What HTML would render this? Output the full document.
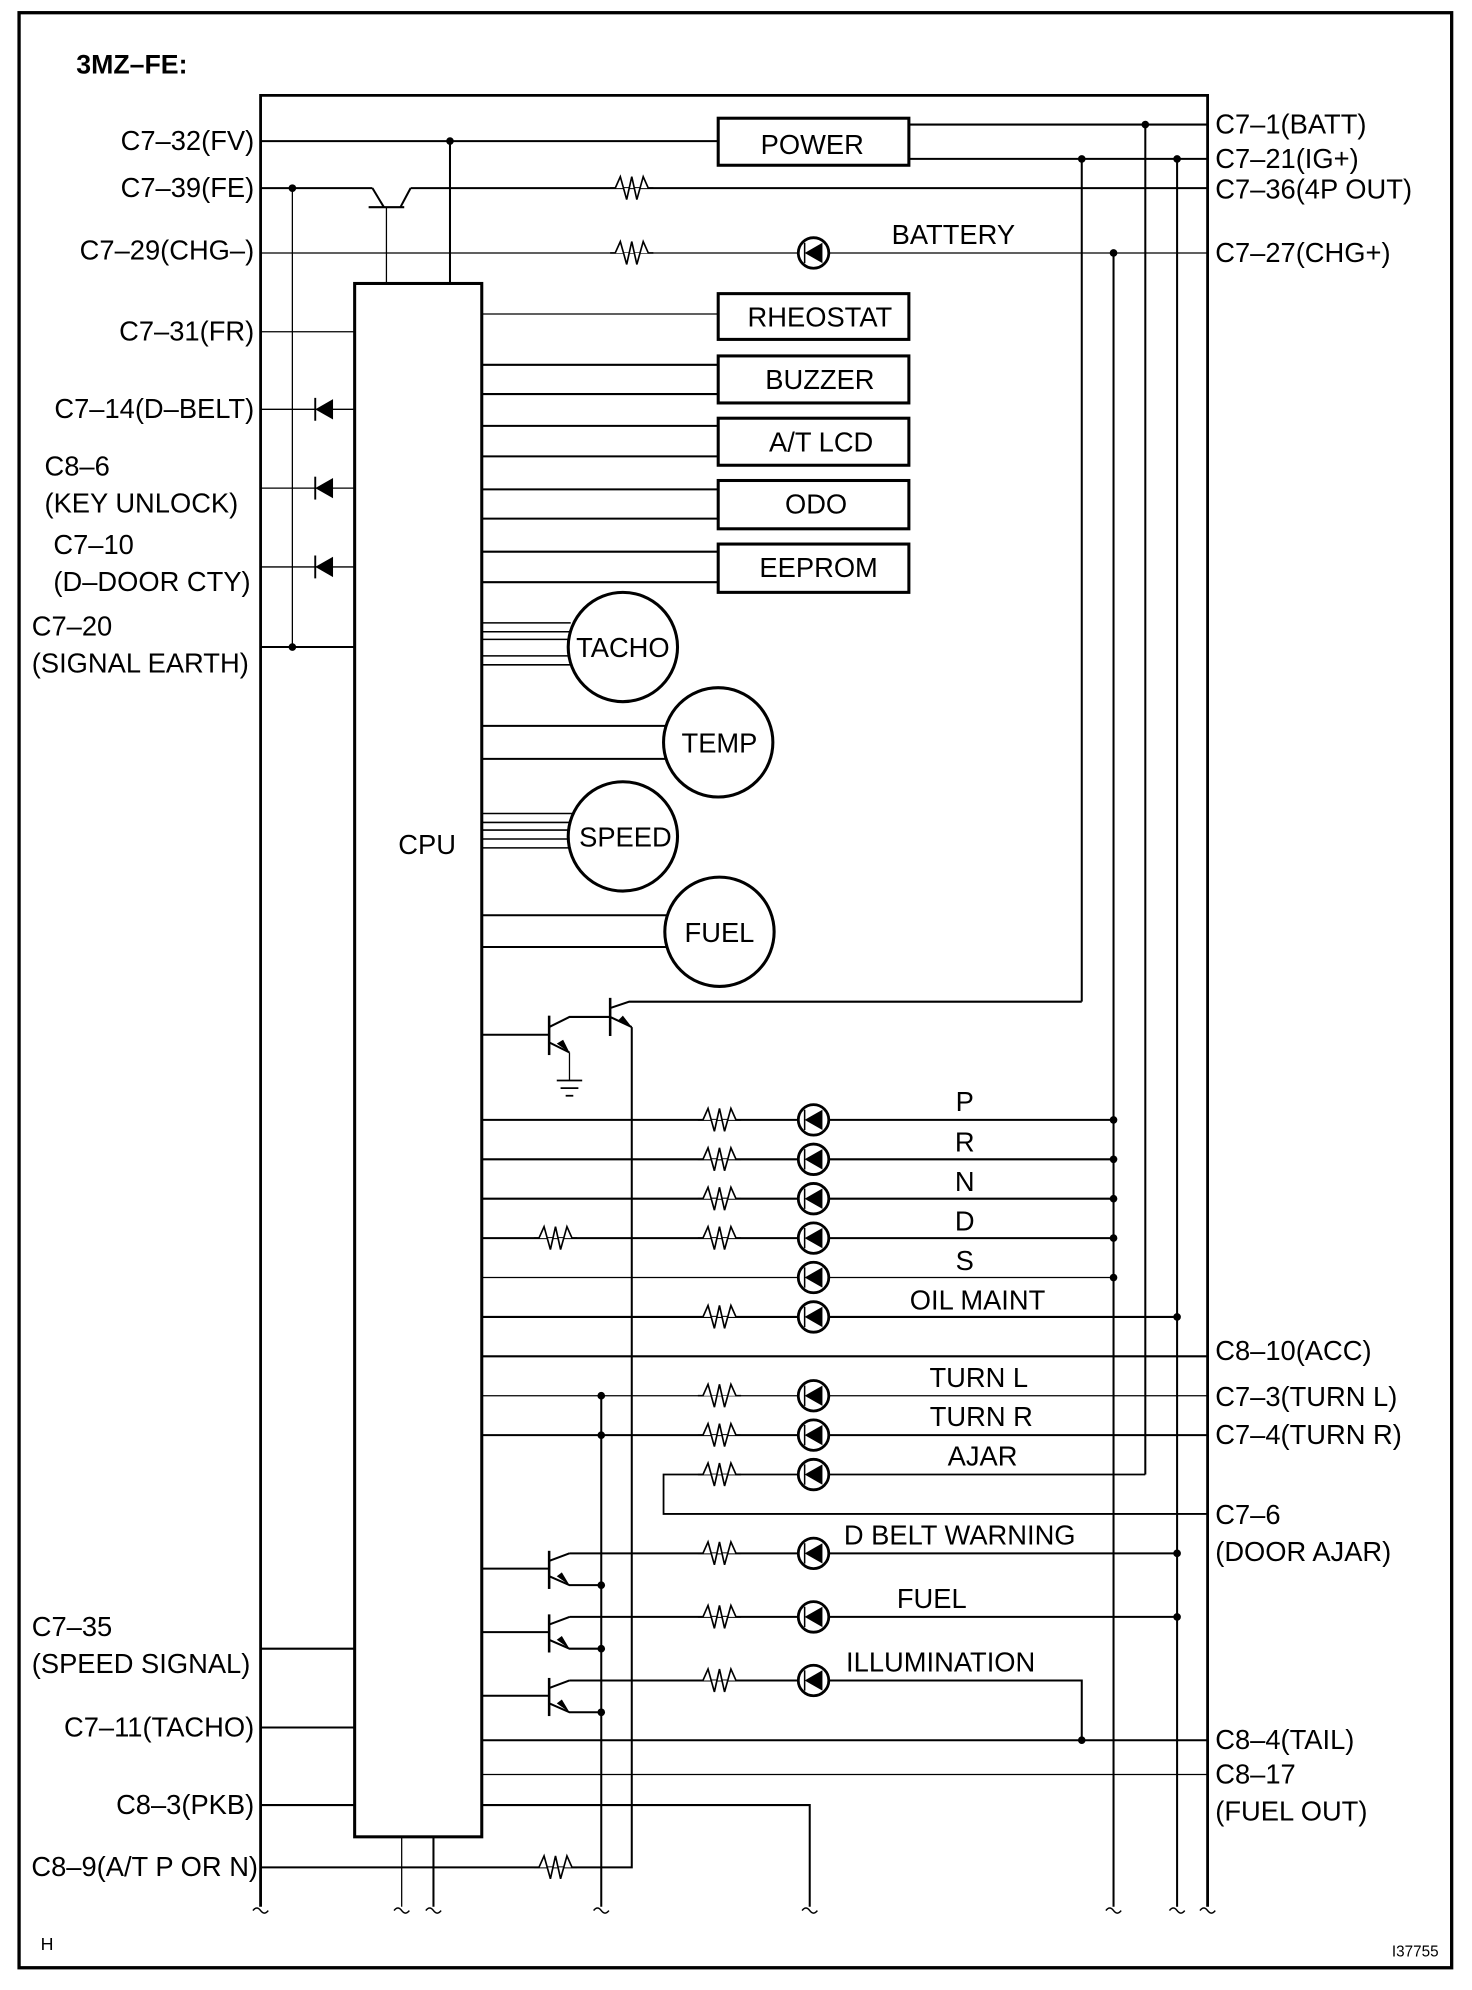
<!DOCTYPE html>
<html><head><meta charset="utf-8"><style>
html,body{margin:0;padding:0;background:#fff;}
svg{display:block;}
text{font-family:"Liberation Sans",Arial,sans-serif;font-size:21.5px;fill:#000;}
</style></head><body>
<svg width="1472" height="1990" viewBox="0 0 1158 1565.5" preserveAspectRatio="none" xmlns="http://www.w3.org/2000/svg">
<defs>
<g id="res"><polyline points="-17,0 -13,0 -9,-9 -4,9 0,-9 4,9 9,-9 13,0 17,0" fill="#fff" stroke="#000" stroke-width="1.3"/></g>
<g id="led"><circle r="12" fill="#fff" stroke="#000" stroke-width="2.2"/><line x1="-7" y1="-8" x2="-7" y2="8" stroke="#000" stroke-width="1.2"/><polygon points="-7,0 7,-8 7,8" fill="#000"/></g>
<g id="dio"><line x1="-7" y1="-9" x2="-7" y2="9" stroke="#000" stroke-width="1.5"/><polygon points="-7,0 7,-8 7,8" fill="#000"/></g>
</defs>
<g fill="none" stroke="#000" stroke-width="1.6">
<rect x="15" y="10" width="1127" height="1538" stroke-width="2.6"/>
<polyline points="205,1500 205,75 950,75 950,1500" stroke-width="2.2"/>
<rect x="279" y="223" width="100" height="1222" stroke-width="2.4"/>
<rect x="565" y="93" width="150" height="37" stroke-width="2.4"/>
<rect x="565" y="231" width="150" height="36" stroke-width="2.4"/>
<rect x="565" y="280" width="150" height="37" stroke-width="2.4"/>
<rect x="565" y="329" width="150" height="37" stroke-width="2.4"/>
<rect x="565" y="378" width="150" height="38" stroke-width="2.4"/>
<rect x="565" y="428" width="150" height="38" stroke-width="2.4"/>
<circle cx="490" cy="509" r="43" stroke-width="2.4"/>
<circle cx="565" cy="584" r="43" stroke-width="2.4"/>
<circle cx="490" cy="658" r="43" stroke-width="2.4"/>
<circle cx="566" cy="733" r="43" stroke-width="2.4"/>
<line x1="205" y1="111" x2="565" y2="111"/>
<line x1="354" y1="111" x2="354" y2="223"/>
<line x1="715" y1="98" x2="950" y2="98"/>
<line x1="715" y1="125" x2="950" y2="125"/>
<line x1="901" y1="98" x2="901" y2="1160"/>
<line x1="926" y1="125" x2="926" y2="1500"/>
<line x1="851" y1="125" x2="851" y2="788"/>
<line x1="876" y1="199" x2="876" y2="1500"/>
<line x1="205" y1="148" x2="293" y2="148"/>
<line x1="293" y1="148" x2="302" y2="163"/>
<line x1="290" y1="163" x2="318" y2="163"/>
<line x1="315" y1="163" x2="323" y2="148"/>
<line x1="323" y1="148" x2="950" y2="148"/>
<line x1="304" y1="163" x2="304" y2="223" stroke-width="1"/>
<line x1="230" y1="148" x2="230" y2="509" stroke-width="1"/>
<line x1="205" y1="199" x2="950" y2="199" stroke-width="1"/>
<line x1="205" y1="261" x2="279" y2="261" stroke-width="1"/>
<line x1="205" y1="322" x2="279" y2="322" stroke-width="1"/>
<line x1="205" y1="384" x2="279" y2="384" stroke-width="1"/>
<line x1="205" y1="446" x2="279" y2="446" stroke-width="1"/>
<line x1="205" y1="509" x2="279" y2="509"/>
<line x1="205" y1="1297" x2="279" y2="1297"/>
<line x1="205" y1="1359" x2="279" y2="1359"/>
<line x1="205" y1="1420" x2="279" y2="1420"/>
<polyline points="205,1469 497,1469 497,808"/>
<line x1="316" y1="1445" x2="316" y2="1500" stroke-width="1"/>
<line x1="341" y1="1445" x2="341" y2="1500"/>
<line x1="379" y1="247" x2="565" y2="247" stroke-width="1"/>
<line x1="379" y1="287" x2="565" y2="287"/><line x1="379" y1="310" x2="565" y2="310"/>
<line x1="379" y1="335" x2="565" y2="335"/><line x1="379" y1="359" x2="565" y2="359"/>
<line x1="379" y1="385" x2="565" y2="385"/><line x1="379" y1="408" x2="565" y2="408"/>
<line x1="379" y1="434" x2="565" y2="434"/><line x1="379" y1="458" x2="565" y2="458"/>
<g stroke-width="1.2">
<line x1="379" y1="490" x2="449" y2="490"/><line x1="379" y1="497" x2="448" y2="497"/><line x1="379" y1="503" x2="447" y2="503"/><line x1="379" y1="516" x2="447" y2="516"/><line x1="379" y1="523" x2="449" y2="523"/>
<line x1="379" y1="640" x2="452" y2="640"/><line x1="379" y1="647" x2="449" y2="647"/><line x1="379" y1="653" x2="447" y2="653"/><line x1="379" y1="660" x2="447" y2="660"/><line x1="379" y1="667" x2="449" y2="667"/>
</g>
<line x1="379" y1="571" x2="524" y2="571"/><line x1="379" y1="597" x2="524" y2="597"/>
<line x1="379" y1="720" x2="525" y2="720"/><line x1="379" y1="745" x2="525" y2="745"/>
<line x1="379" y1="814" x2="432" y2="814"/>
<line x1="432" y1="799" x2="432" y2="830" stroke-width="2"/>
<polyline points="432,808 448,800 480,800"/>
<line x1="432" y1="820" x2="448" y2="828"/>
<line x1="448" y1="828" x2="448" y2="850" stroke-width="1"/>
<line x1="438" y1="850" x2="458" y2="850" stroke-width="1.4"/>
<line x1="441" y1="856" x2="455" y2="856" stroke-width="1.4"/>
<line x1="445" y1="862" x2="451" y2="862" stroke-width="1.4"/>
<line x1="480" y1="785" x2="480" y2="815" stroke-width="2"/>
<polyline points="480,793 495,788 851,788"/>
<line x1="480" y1="800" x2="497" y2="808"/>
<line x1="379" y1="881" x2="876" y2="881"/>
<line x1="379" y1="912" x2="876" y2="912"/>
<line x1="379" y1="943" x2="876" y2="943"/>
<line x1="379" y1="974" x2="876" y2="974"/>
<line x1="379" y1="1005" x2="876" y2="1005" stroke-width="1"/>
<line x1="379" y1="1036" x2="926" y2="1036"/>
<line x1="379" y1="1067" x2="950" y2="1067"/>
<line x1="379" y1="1098" x2="950" y2="1098" stroke-width="1"/>
<line x1="379" y1="1129" x2="950" y2="1129"/>
<polyline points="901,1160 522,1160 522,1191 950,1191" stroke-width="1.4"/>
<line x1="473" y1="1098" x2="473" y2="1500"/>
<line x1="448" y1="1222" x2="926" y2="1222"/>
<line x1="448" y1="1272" x2="926" y2="1272"/>
<polyline points="448,1322 851,1322 851,1369"/>
<line x1="379" y1="1369" x2="950" y2="1369"/>
<line x1="379" y1="1396" x2="950" y2="1396" stroke-width="1"/>
<polyline points="379,1420 637,1420 637,1500"/>
<g id="t3">
<line x1="379" y1="1234" x2="432" y2="1234"/>
<line x1="432" y1="1220" x2="432" y2="1250" stroke-width="2"/>
<line x1="432" y1="1228" x2="448" y2="1222"/>
<polyline points="432,1240 448,1247 473,1247"/>
</g>
<use href="#t3" y="50"/><use href="#t3" y="100"/>
<g stroke-width="1.2">
<path d="M199,1503 q3,-4 6,0 q3,4 6,0"/><path d="M310,1503 q3,-4 6,0 q3,4 6,0"/><path d="M335,1503 q3,-4 6,0 q3,4 6,0"/>
<path d="M467,1503 q3,-4 6,0 q3,4 6,0"/><path d="M631,1503 q3,-4 6,0 q3,4 6,0"/><path d="M870,1503 q3,-4 6,0 q3,4 6,0"/>
<path d="M920,1503 q3,-4 6,0 q3,4 6,0"/><path d="M944,1503 q3,-4 6,0 q3,4 6,0"/>
</g>
</g>
<g fill="#000">
<circle cx="354" cy="111" r="3"/><circle cx="230" cy="148" r="3"/><circle cx="230" cy="509" r="3"/>
<circle cx="901" cy="98" r="3"/><circle cx="851" cy="125" r="3"/><circle cx="926" cy="125" r="3"/><circle cx="876" cy="199" r="3"/>
<circle cx="876" cy="881" r="3"/><circle cx="876" cy="912" r="3"/><circle cx="876" cy="943" r="3"/><circle cx="876" cy="974" r="3"/><circle cx="876" cy="1005" r="3"/>
<circle cx="926" cy="1036" r="3"/><circle cx="473" cy="1098" r="3"/><circle cx="473" cy="1129" r="3"/>
<circle cx="926" cy="1222" r="3"/><circle cx="926" cy="1272" r="3"/><circle cx="851" cy="1369" r="3"/>
<circle cx="473" cy="1247" r="3"/><circle cx="473" cy="1297" r="3"/><circle cx="473" cy="1347" r="3"/>
<polygon points="448,828 438,821 443,818"/><polygon points="497,808 486,803 490,799"/>
<polygon points="448,1247 438,1240 442,1237"/><polygon points="448,1297 438,1290 442,1287"/><polygon points="448,1347 438,1340 442,1337"/>
</g>
<use href="#res" x="497" y="148"/><use href="#res" x="497" y="199"/>
<use href="#res" x="566" y="881"/><use href="#res" x="566" y="912"/><use href="#res" x="566" y="943"/><use href="#res" x="566" y="974"/><use href="#res" x="437" y="974"/>
<use href="#res" x="566" y="1036"/><use href="#res" x="566" y="1098"/><use href="#res" x="566" y="1129"/><use href="#res" x="566" y="1160"/>
<use href="#res" x="566" y="1222"/><use href="#res" x="566" y="1272"/><use href="#res" x="566" y="1322"/><use href="#res" x="437" y="1469"/>
<use href="#led" x="640" y="199"/>
<use href="#led" x="640" y="881"/><use href="#led" x="640" y="912"/><use href="#led" x="640" y="943"/><use href="#led" x="640" y="974"/><use href="#led" x="640" y="1005"/><use href="#led" x="640" y="1036"/>
<use href="#led" x="640" y="1098"/><use href="#led" x="640" y="1129"/><use href="#led" x="640" y="1160"/>
<use href="#led" x="640" y="1222"/><use href="#led" x="640" y="1272"/><use href="#led" x="640" y="1322"/>
<use href="#dio" x="255" y="322"/><use href="#dio" x="255" y="384"/><use href="#dio" x="255" y="446"/>
<text x="60" y="58" font-weight="bold" style="font-size:21px">3MZ–FE:</text>
<g text-anchor="end">
<text x="200" y="118">C7–32(FV)</text><text x="200" y="155">C7–39(FE)</text><text x="200" y="204">C7–29(CHG–)</text>
<text x="200" y="268">C7–31(FR)</text><text x="200" y="329">C7–14(D–BELT)</text>
<text x="200" y="1366">C7–11(TACHO)</text><text x="200" y="1427">C8–3(PKB)</text><text x="203" y="1476">C8–9(A/T P OR N)</text>
</g>
<text x="35" y="374">C8–6</text><text x="35" y="403">(KEY UNLOCK)</text>
<text x="42" y="436">C7–10</text><text x="42" y="465">(D–DOOR CTY)</text>
<text x="25" y="500">C7–20</text><text x="25" y="529">(SIGNAL EARTH)</text>
<text x="25" y="1287">C7–35</text><text x="25" y="1316">(SPEED SIGNAL)</text>
<text x="956" y="105">C7–1(BATT)</text><text x="956" y="132">C7–21(IG+)</text><text x="956" y="156">C7–36(4P OUT)</text>
<text x="956" y="206">C7–27(CHG+)</text><text x="956" y="1070">C8–10(ACC)</text><text x="956" y="1106">C7–3(TURN L)</text>
<text x="956" y="1136">C7–4(TURN R)</text><text x="956" y="1199">C7–6</text><text x="956" y="1228">(DOOR AJAR)</text>
<text x="956" y="1376">C8–4(TAIL)</text><text x="956" y="1403">C8–17</text><text x="956" y="1432">(FUEL OUT)</text>
<g text-anchor="middle">
<text x="639" y="121">POWER</text><text x="645" y="257">RHEOSTAT</text><text x="645" y="306">BUZZER</text>
<text x="646" y="355">A/T LCD</text><text x="642" y="404">ODO</text><text x="644" y="454">EEPROM</text>
<text x="490" y="517">TACHO</text><text x="566" y="592">TEMP</text><text x="492" y="666">SPEED</text><text x="566" y="741">FUEL</text>
<text x="336" y="672">CPU</text><text x="750" y="192">BATTERY</text>
<text x="759" y="874">P</text><text x="759" y="906">R</text><text x="759" y="937">N</text><text x="759" y="968">D</text><text x="759" y="999">S</text>
<text x="769" y="1030">OIL MAINT</text><text x="770" y="1091">TURN L</text><text x="772" y="1122">TURN R</text><text x="773" y="1153">AJAR</text>
<text x="755" y="1215">D BELT WARNING</text><text x="733" y="1265">FUEL</text><text x="740" y="1315">ILLUMINATION</text>
</g>
<text x="32" y="1534" style="font-size:14px">H</text>
<text x="1095" y="1539" style="font-size:12px">I37755</text>
</svg>
</body></html>
